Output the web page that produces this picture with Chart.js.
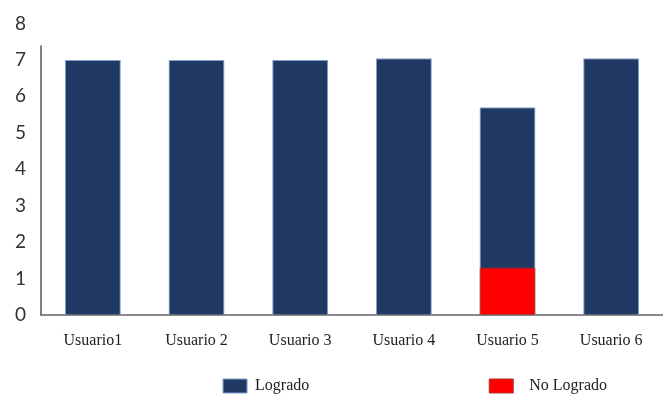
<!DOCTYPE html>
<html>
<head>
<meta charset="utf-8">
<script src="https://cdn.jsdelivr.net/npm/chart.js@4/dist/chart.umd.min.js"></script>
<style>
  html, body { margin: 0; padding: 0; background: #fff; }
  #wrap { width: 663px; height: 404px; }
</style>
</head>
<body>
<div id="wrap"><canvas id="chart"></canvas></div>
<script>
const usuarios = ["Usuario1", "Usuario 2", "Usuario 3", "Usuario 4", "Usuario 5", "Usuario 6"];
const logrado = [7, 7, 7, 7.05, 5.7, 7.05];
const noLogrado = [null, null, null, null, 1.3, null];
const yTicks = [0, 1, 2, 3, 4, 5, 6, 7, 8];

// eje Y: linea que arranca un poco por encima del 7
const yAxisLine = {
  id: "yAxisLine",
  afterDatasetsDraw(chart) {
    const y = chart.scales.y;
    const ctx = chart.ctx;
    ctx.save();
    ctx.strokeStyle = "#555";
    ctx.lineWidth = 1.5;
    ctx.beginPath();
    ctx.moveTo(y.right, y.getPixelForValue(7.4));
    ctx.lineTo(y.right, y.getPixelForValue(0));
    ctx.stroke();
    ctx.restore();
  }
};

// leyenda separada: se rellena el texto con espacios
function legendLabels(chart) {
  const items = Chart.defaults.plugins.legend.labels.generateLabels(chart);
  items.forEach(it => {
    if (it.text === "Logrado") it.text = "Logrado" + " ".repeat(42);
    else it.text = "  " + it.text + " ".repeat(11);
  });
  return items;
}

new Chart(document.getElementById("chart"), {
  type: "bar",
  data: {
    labels: usuarios,
    // No Logrado va primero para quedar dibujado encima
    datasets: [
      {
        label: "No Logrado",
        data: noLogrado,
        backgroundColor: "#ff0000",
        borderColor: "#b03030",
        borderWidth: 1,
        barPercentage: 0.54,
        categoryPercentage: 1
      },
      {
        label: "Logrado",
        data: logrado,
        backgroundColor: "#203864",
        borderColor: "#7ea3cc",
        borderWidth: 1,
        barPercentage: 0.54,
        categoryPercentage: 1
      }
    ]
  },
  options: {
    responsive: true,
    maintainAspectRatio: false,
    animation: false,
    layout: { padding: { top: 0, right: 0, left: 0, bottom: 0 } },
    plugins: {
      tooltip: { enabled: false },
      legend: {
        position: "bottom",
        align: "end",
        reverse: true,
        labels: {
          boxWidth: 24,
          boxHeight: 14,
          padding: 12,
          color: "#222",
          font: { family: "Liberation Serif", size: 16 },
          generateLabels: legendLabels
        }
      }
    },
    scales: {
      x: {
        stacked: true,
        grid: { display: false, drawTicks: false },
        border: { display: true, color: "#8a8a8a", width: 2 },
        ticks: {
          autoSkip: false,
          maxRotation: 0,
          padding: 16,
          color: "#222",
          font: { family: "Liberation Serif", size: 16 }
        }
      },
      y: {
        stacked: false,
        min: 0,
        max: 8,
        afterBuildTicks: axis => { axis.ticks = yTicks.map(v => ({ value: v })); },
        grid: { display: false, drawTicks: false },
        border: { display: false },
        ticks: {
          autoSkip: false,
          padding: 15,
          color: "#333",
          font: { family: "Lato", size: 19, lineHeight: 0.9 }
        }
      }
    }
  },
  plugins: [yAxisLine]
});
</script>
</body>
</html>
